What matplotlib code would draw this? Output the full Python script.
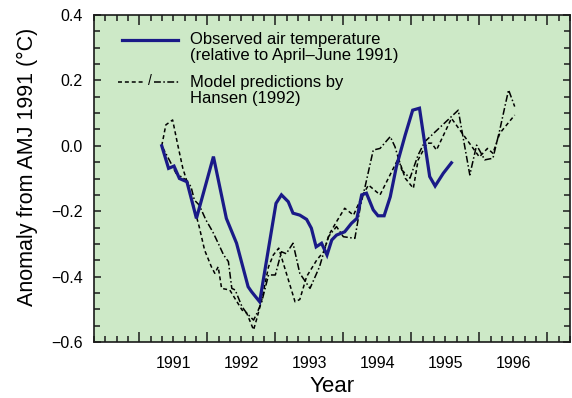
import numpy as np
import matplotlib
matplotlib.use("Agg")
import matplotlib.pyplot as plt
from matplotlib.ticker import MultipleLocator, FuncFormatter

plt.rcParams['font.family'] = ['Liberation Sans', 'DejaVu Sans']

# observed air temperature anomaly (relative to AMJ 1991)
obs_year = [1991.33, 1991.43, 1991.51, 1991.59, 1991.70, 1991.84, 1992.09, 1992.28,
            1992.43, 1992.60, 1992.65, 1992.77, 1993.01, 1993.09, 1993.19, 1993.26,
            1993.36, 1993.46, 1993.53, 1993.60, 1993.68, 1993.76, 1993.83, 1993.90,
            1994.02, 1994.12, 1994.20, 1994.27, 1994.34, 1994.44, 1994.51, 1994.60,
            1994.69, 1994.78, 1994.91, 1995.02, 1995.12, 1995.27, 1995.35, 1995.47,
            1995.59]
obs_anom = [0.00, -0.069, -0.062, -0.10, -0.11, -0.222, -0.033, -0.222,
            -0.298, -0.431, -0.446, -0.477, -0.176, -0.150, -0.171, -0.206,
            -0.212, -0.225, -0.252, -0.309, -0.298, -0.334, -0.288, -0.273,
            -0.263, -0.237, -0.222, -0.150, -0.145, -0.196, -0.214, -0.214,
            -0.156, -0.064, 0.033, 0.109, 0.115, -0.094, -0.123, -0.084,
            -0.052]

# Hansen (1992) model run, dashed
run1_year = [1991.33, 1991.39, 1991.49, 1991.56, 1991.64, 1991.71, 1991.88, 1991.96,
             1992.06, 1992.11, 1992.16, 1992.21, 1992.33, 1992.51, 1992.58, 1992.68,
             1992.73, 1992.80, 1992.90, 1992.97, 1993.05, 1993.29, 1993.36, 1993.46,
             1993.61, 1993.71, 1993.80, 1993.90, 1994.02, 1994.15, 1994.27, 1994.37,
             1994.54, 1994.81, 1994.91, 1995.03, 1995.10, 1995.23, 1995.30, 1995.37,
             1995.59, 1996.00, 1996.12, 1996.20, 1996.30, 1996.52]
run1_anom = [0.00, 0.064, 0.079, 0.008, -0.069, -0.115, -0.247, -0.319,
             -0.37, -0.39, -0.37, -0.436, -0.441, -0.502, -0.512, -0.563,
             -0.527, -0.471, -0.37, -0.334, -0.313, -0.477, -0.47, -0.40,
             -0.349, -0.324, -0.268, -0.232, -0.191, -0.212, -0.156, -0.12,
             -0.150, -0.038, -0.099, -0.130, -0.043, 0.008, 0.008, -0.013,
             0.084, -0.034, -0.008, -0.023, 0.038, 0.094]

# Hansen (1992) model run, dash-dot
run2_year = [1991.33, 1991.44, 1991.54, 1991.69, 1991.76, 1991.81, 1991.88, 1991.98,
             1992.08, 1992.16, 1992.24, 1992.31, 1992.36, 1992.41, 1992.51, 1992.58,
             1992.68, 1992.73, 1992.80, 1992.90, 1993.00, 1993.09, 1993.16, 1993.26,
             1993.36, 1993.51, 1993.65, 1993.78, 1993.90, 1994.00, 1994.17, 1994.25,
             1994.32, 1994.44, 1994.54, 1994.69, 1994.76, 1994.86, 1994.98, 1995.10,
             1995.20, 1995.69, 1995.86, 1995.96, 1996.08, 1996.20, 1996.30, 1996.43,
             1996.52]
run2_anom = [0.00, -0.043, -0.084, -0.105, -0.125, -0.166, -0.181, -0.227,
             -0.263, -0.298, -0.334, -0.354, -0.436, -0.441, -0.492, -0.512,
             -0.533, -0.512, -0.477, -0.395, -0.395, -0.324, -0.33, -0.298,
             -0.39, -0.436, -0.37, -0.278, -0.247, -0.278, -0.283, -0.186,
             -0.125, -0.013, -0.008, 0.028, -0.003, -0.074, -0.099, -0.028,
             0.013, 0.109, -0.089, 0.002, -0.043, -0.038, 0.048, 0.171,
             0.120]

year_labels = [1991, 1992, 1993, 1994, 1995, 1996]

obs_color = '#1a1a88'
bg_color = '#cde9c7'
dash_style = (0, (2.6, 1.9))
dashdot_style = (0, (4.5, 1.6, 1.0, 1.6))

fig = plt.figure(figsize=(5.72, 3.98), dpi=100)
ax = fig.add_axes([0.1643, 0.1407, 0.8322, 0.8216])
ax.set_facecolor(bg_color)

ax.plot(run1_year, run1_anom, color='black', lw=1.1, linestyle=dash_style)
ax.plot(run2_year, run2_anom, color='black', lw=1.1, linestyle=dashdot_style)
ax.plot(obs_year, obs_anom, color=obs_color, lw=2.3, solid_joinstyle='miter')

ax.set_xlim(1990 + 1 / 3, 1997 + 1 / 3)
ax.set_ylim(-0.6, 0.4)

# year boundaries as long ticks, two-month minor ticks, labels mid-year
ax.xaxis.set_major_locator(MultipleLocator(1))
ax.xaxis.set_major_formatter(FuncFormatter(lambda v, p: ''))
ax.xaxis.set_minor_locator(MultipleLocator(1 / 6))

def mid_year(v, p):
    yr = int(np.floor(v))
    if abs(v - yr - 0.5) < 1e-3 and yr in year_labels:
        return str(yr)
    return ''

ax.xaxis.set_minor_formatter(FuncFormatter(mid_year))

ax.yaxis.set_major_locator(MultipleLocator(0.2))
ax.yaxis.set_minor_locator(MultipleLocator(0.05))
ax.yaxis.set_major_formatter(FuncFormatter(lambda v, p: f"{v:.1f}".replace('-', '\u2212')))

ax.tick_params(which='both', direction='in', top=True, right=True, width=1.1,
               labelsize=11.5, color='#1a1a1a')
ax.tick_params(axis='x', which='major', length=7, pad=10)
ax.tick_params(axis='x', which='minor', length=4, pad=10)
ax.tick_params(axis='y', which='major', length=5, pad=8)
ax.tick_params(axis='y', which='minor', length=4.5)
for s in ax.spines.values():
    s.set_linewidth(1.2)
    s.set_color('#1a1a1a')

ax.set_xlabel('Year', fontsize=16, labelpad=4)
ax.set_ylabel('Anomaly from AMJ 1991 (\u00b0C)', fontsize=15.5)
ax.yaxis.set_label_coords(-0.118, 0.535)

# legend drawn by hand
tr = ax.transAxes
ax.plot([0.059, 0.176], [0.924, 0.924], color=obs_color, lw=2.3, transform=tr)
ax.text(0.202, 0.924, 'Observed air temperature', transform=tr,
        fontsize=12, va='center', ha='left')
ax.text(0.202, 0.876, '(relative to April\u2013June 1991)', transform=tr,
        fontsize=12, va='center', ha='left')

ax.plot([0.050, 0.108], [0.795, 0.795], color='black', lw=1.1,
        linestyle=dash_style, transform=tr)
ax.text(0.117, 0.797, '/', transform=tr, fontsize=10, va='center', ha='center')
ax.plot([0.127, 0.178], [0.795, 0.795], color='black', lw=1.1,
        linestyle=dashdot_style, transform=tr)
ax.text(0.202, 0.795, 'Model predictions by', transform=tr,
        fontsize=12, va='center', ha='left')
ax.text(0.202, 0.744, 'Hansen (1992)', transform=tr,
        fontsize=12, va='center', ha='left')

fig.savefig('out.png', dpi=100, facecolor='white')
